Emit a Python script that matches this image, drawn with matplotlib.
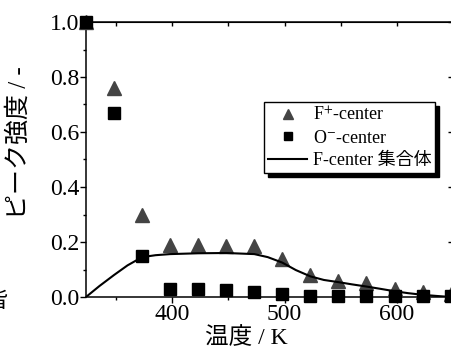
import matplotlib
matplotlib.use("Agg")
import matplotlib.pyplot as plt
from matplotlib.ticker import MultipleLocator

plt.rcParams['font.family'] = ['Liberation Serif', 'Noto Sans CJK JP']
plt.rcParams['mathtext.fontset'] = 'stix'

# measured temperatures (K)
temp = [323, 348, 373, 398, 423, 448, 473, 498, 523, 548, 573, 598, 623, 648]
f_plus = [1.0, 0.76, 0.30, 0.19, 0.19, 0.185, 0.185, 0.14, 0.08, 0.06, 0.05, 0.03, 0.02, 0.01]
o_minus = [1.0, 0.67, 0.15, 0.03, 0.03, 0.025, 0.02, 0.01, 0.005, 0.005, 0.005, 0.005, 0.005, 0.005]

# F-center aggregate curve
agg_temp = [323, 335, 348, 360, 373, 385, 398, 423, 448, 473, 485, 498, 510,
            523, 535, 548, 560, 573, 585, 598, 610, 623, 635, 648]
agg_val = [0.0, 0.04, 0.08, 0.115, 0.145, 0.152, 0.156, 0.159, 0.16, 0.156, 0.145,
           0.125, 0.098, 0.075, 0.062, 0.054, 0.046, 0.038, 0.03, 0.021, 0.014,
           0.008, 0.004, 0.0]

fig = plt.figure(figsize=(4.52, 3.51), dpi=100)
ax = fig.add_axes([86 / 452, 54 / 351, 368 / 452, 275 / 351])

ax.plot(temp, f_plus, linestyle='none', marker='^', markersize=10, color='#444444',
        label='F$^{+}$-center', clip_on=False, zorder=3)
ax.plot(temp, o_minus, linestyle='none', marker='s', markersize=8.5, color='black',
        label='O$^{-}$-center', clip_on=False, zorder=4)
ax.plot(agg_temp, agg_val, color='black', linewidth=1.5, label='F-center 集合体',
        zorder=5)

ax.set_xlim(323, 651)
ax.set_ylim(0, 1.0)
ax.xaxis.set_major_locator(MultipleLocator(100))
ax.xaxis.set_minor_locator(MultipleLocator(50))
ax.yaxis.set_major_locator(MultipleLocator(0.2))
ax.yaxis.set_minor_locator(MultipleLocator(0.1))
ax.yaxis.set_major_formatter(matplotlib.ticker.FormatStrFormatter('%.1f'))

for s in ax.spines.values():
    s.set_linewidth(1.1)
ax.tick_params(which='major', direction='out', length=4, width=1, labelsize=17, pad=1)
ax.tick_params(which='minor', direction='out', length=2.5, width=1)

top = ax.secondary_xaxis('top')
top.xaxis.set_major_locator(MultipleLocator(100))
top.xaxis.set_minor_locator(MultipleLocator(50))
top.tick_params(which='both', direction='in', length=3, width=1, labeltop=False)
right = ax.secondary_yaxis('right')
right.yaxis.set_major_locator(MultipleLocator(0.2))
right.yaxis.set_minor_locator(MultipleLocator(0.1))
right.tick_params(which='major', direction='in', length=4, width=1, labelright=False)
right.tick_params(which='minor', direction='in', length=2.5, width=1)

ax.set_xlabel('温度 / K', fontsize=17, labelpad=0)
ax.xaxis.set_label_coords(160 / 368, -0.11)
ax.set_ylabel('ピーク強度 / -', fontsize=18)
ax.yaxis.set_label_coords(-0.15, 0.56)

leg = ax.legend(loc='upper left', bbox_to_anchor=(0.484, 0.709), borderaxespad=0,
                fontsize=13, frameon=True, fancybox=False, edgecolor='black',
                shadow={'color': 'black', 'alpha': 1, 'ox': 3, 'oy': -3},
                markerscale=0.7, handlelength=2.2, handletextpad=0.3,
                borderpad=0.2, labelspacing=0.3)
leg.get_frame().set_linewidth(1)

fig.text(8 / 452, 1 - 302 / 351, '皆', fontsize=16, ha='right', va='center')

fig.savefig('out.png', dpi=100)
